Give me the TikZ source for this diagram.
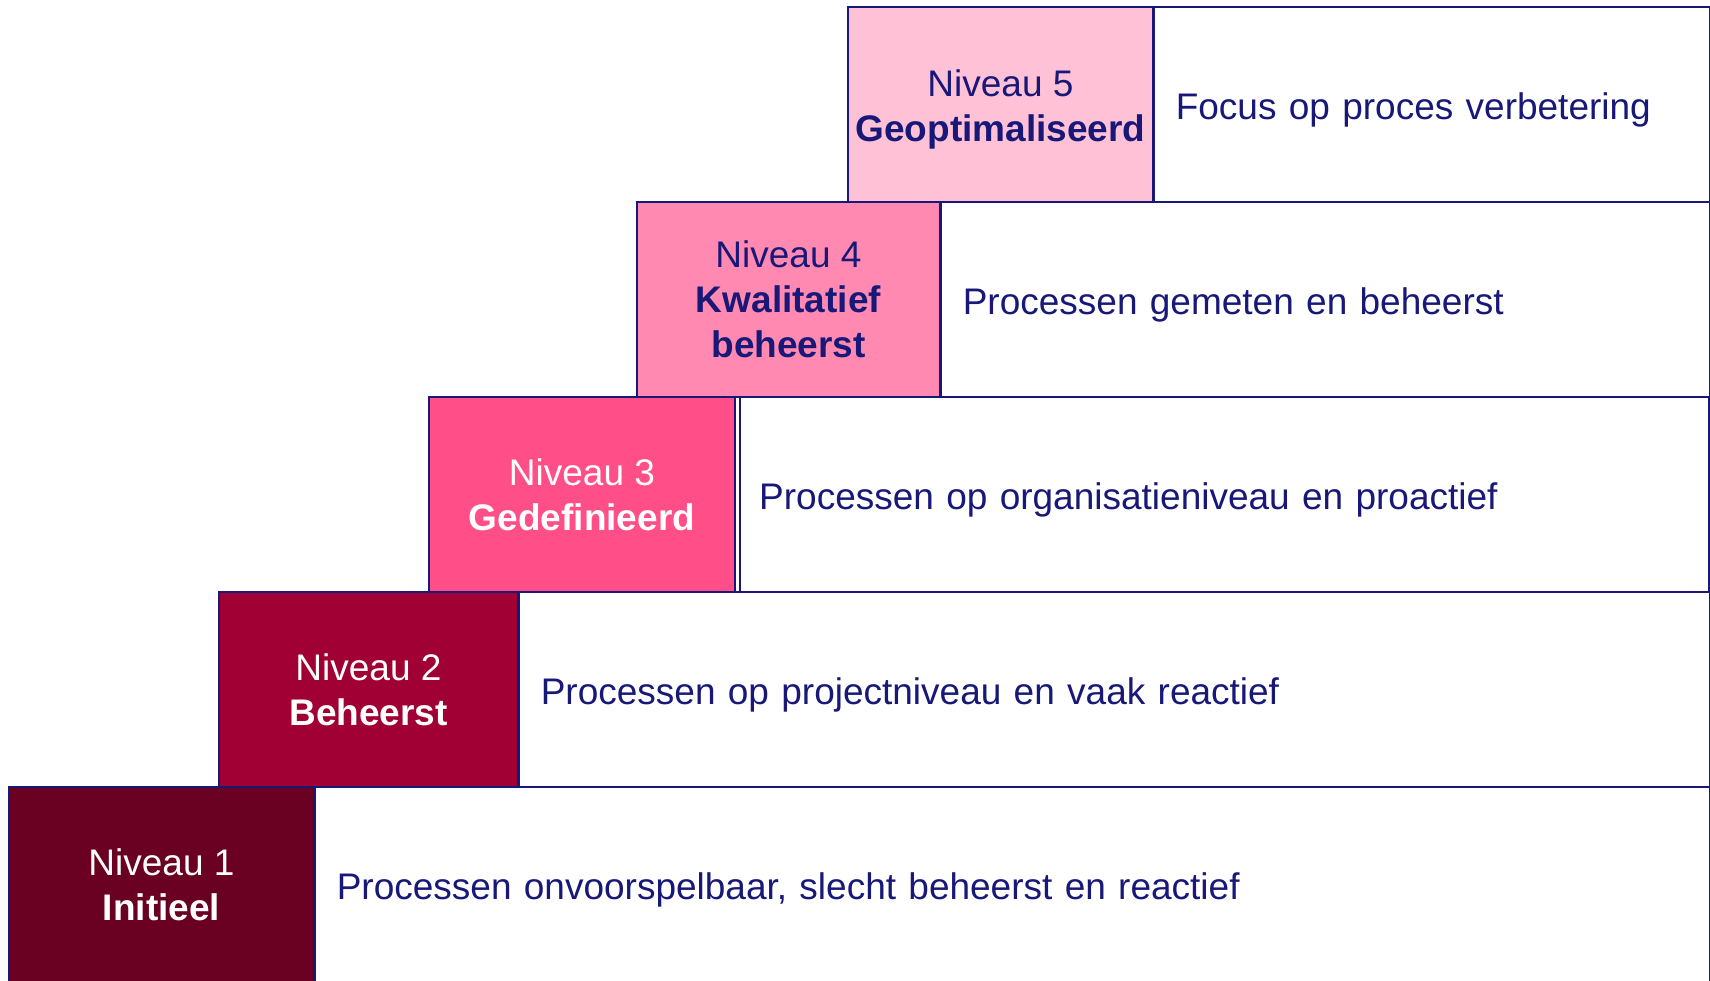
\documentclass[tikz,border=0pt]{standalone}
\usepackage{fontspec}
\setmainfont{Liberation Sans}
\definecolor{navy}{RGB}{24,24,120}
\definecolor{lvlone}{RGB}{106,0,34}
\definecolor{lvltwo}{RGB}{160,0,52}
\definecolor{lvlthree}{RGB}{255,78,136}
\definecolor{lvlfour}{RGB}{255,137,176}
\definecolor{lvlfive}{RGB}{255,193,214}
\begin{document}
\begin{tikzpicture}[x=1pt,y=-1pt,
  txt/.style={font=\fontsize{37}{45}\selectfont},
  lvl/.style={txt, draw=navy, line width=1.6pt, align=center, inner sep=0pt,
              minimum height=195pt},
  desc/.style={txt, draw=navy, fill=white, line width=1.6pt, align=left,
               inner xsep=22pt, inner ysep=0pt, text=navy, anchor=west,
               text height=38pt, text depth=8pt,
               minimum height=195pt, text width=#1}]
\clip (0,0) rectangle (1710,980);

% description bars (drawn first, level boxes overlap their left edges)
\node[desc=1351pt] (d1) at (314,884.5) {Processen onvoorspelbaar, slecht beheerst en reactief};
\node[desc=1147pt] (d2) at (518,689.5) {Processen op projectniveau en vaak reactief};
\node[desc=931pt, inner xsep=19pt, line width=2.4pt] (d3) at (739,494.5) {Processen op organisatieniveau en proactief};
\node[desc=725pt] (d4) at (940,299.5) {Processen gemeten en beheerst};
\node[desc=512pt] (d5) at (1153,104.5) {Focus op proces verbetering};

% level boxes, one step up and to the right each
\node[lvl, fill=lvlone, text=white, minimum width=305pt] (l1) at (161.5,884.5)
  {Niveau 1\\\textbf{Initieel}};
\node[lvl, fill=lvltwo, text=white, minimum width=299pt] (l2) at (368.5,689.5)
  {Niveau 2\\\textbf{Beheerst}};
\node[lvl, fill=lvlthree, text=white, minimum width=306pt] (l3) at (582,494.5)
  {Niveau 3\\\textbf{Gedefinieerd}};
\node[lvl, fill=lvlfour, text=navy, minimum width=303pt] (l4) at (788.5,299.5)
  {Niveau 4\\\textbf{Kwalitatief}\\\textbf{beheerst}};
\node[lvl, fill=lvlfive, minimum width=305pt,
      label={[txt, text=navy, align=center, inner sep=0pt, yshift=-4.5pt]center:{Niveau 5\\\textbf{Geoptimaliseerd}}}]
  (l5) at (1000.5,104.5) {};
\end{tikzpicture}
\end{document}
